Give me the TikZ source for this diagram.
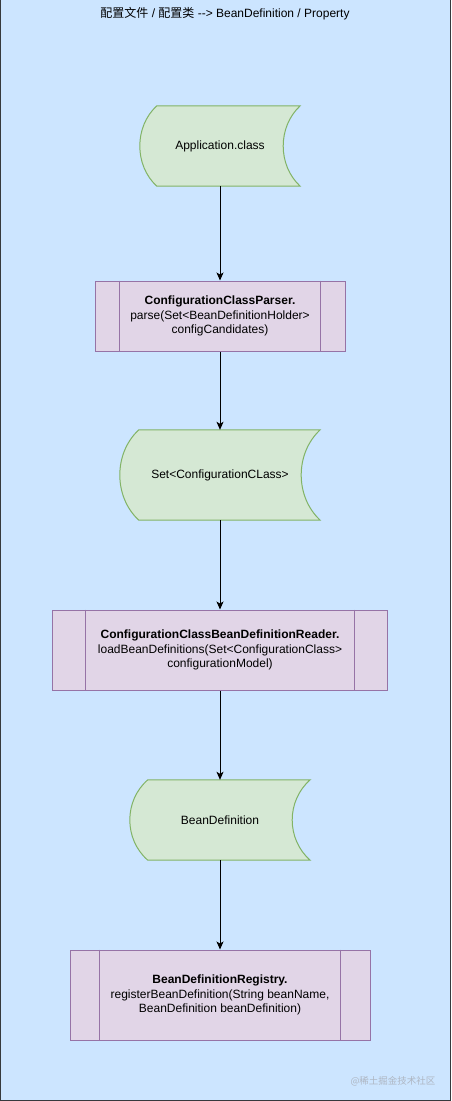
\documentclass[tikz,border=0pt]{standalone}
\usepackage{fontspec}
\setmainfont{Liberation Sans}
\newfontfamily\cjk{Noto Sans CJK SC}
\usetikzlibrary{arrows.meta,backgrounds,calc}
\definecolor{canvasblue}{HTML}{CCE5FF}
\definecolor{canvasedge}{HTML}{36393D}
\definecolor{datafill}{HTML}{D5E8D4}
\definecolor{dataline}{HTML}{82B366}
\definecolor{procfill}{HTML}{E1D5E7}
\definecolor{procline}{HTML}{9673A6}
\definecolor{markgray}{HTML}{AEB6C2}

\begin{document}
\begin{tikzpicture}[x=1pt,y=-1pt,
    flowtext/.style={font=\fontsize{12}{14.5}\selectfont,align=center,inner sep=0pt},
    datanode/.style={flowtext,minimum height=80},
    procnode/.style={flowtext,draw=procline,fill=procfill,line width=1pt},
    flowarrow/.style={-{Stealth[length=8pt,width=7pt,inset=2pt]},line width=1pt}]
    \useasboundingbox (0,0) rectangle (451,1101);
    \node[flowtext] (title) at (225,14)
      {{\cjk 配置文件} / {\cjk 配置类} -{}-> BeanDefinition / Property};
    % flow, top to bottom
    \node[datanode,minimum width=160] (appclass) at (220,146) {Application.class};
    \node[procnode,minimum width=250,minimum height=70] (parser) at (220,316)
      {\textbf{ConfigurationClassParser.}\\parse(Set<BeanDefinitionHolder>\\configCandidates)};
    \node[datanode,minimum width=200,minimum height=90] (cfgset) at (220,475)
      {Set<ConfigurationCLass>};
    \node[procnode,minimum width=335,minimum height=80] (reader) at (220,650)
      {\textbf{ConfigurationClassBeanDefinitionReader.}\\loadBeanDefinitions(Set<ConfigurationClass>\\configurationModel)};
    \node[datanode,minimum width=180] (beandef) at (220,820) {BeanDefinition};
    \node[procnode,minimum width=300,minimum height=90] (registry) at (220,995)
      {\textbf{BeanDefinitionRegistry.}\\registerBeanDefinition(String beanName,\\BeanDefinition beanDefinition)};
    \node[font=\cjk\fontsize{9.5}{10}\selectfont,text=markgray] (watermark) at (393,1081)
      {@稀土掘金技术社区};
    \foreach \n/\s in {parser/25,reader/33.5,registry/30}
      \draw[procline,line width=1pt]
        ([xshift=\s]\n.north west) -- ([xshift=\s]\n.south west)
        ([xshift=-\s]\n.north east) -- ([xshift=-\s]\n.south east);
    \begin{scope}[on background layer]
      \fill[canvasblue] (0,0) rectangle (451,1101);
      \draw[canvasedge,line width=1pt] (0.5,0) -- (0.5,1100.5) -- (450.5,1100.5) -- (450.5,0);
      % stored data outlines, rounded sides
      \foreach \n/\s in {appclass/17,cfgset/19,beandef/18}
        \draw[dataline,fill=datafill,line width=1pt]
          ([xshift=\s]\n.north west) -- (\n.north east)
          .. controls ($(\n.north east)!.26!(\n.south east)+(-4*\s/3,0)$)
                  and ($(\n.north east)!.74!(\n.south east)+(-4*\s/3,0)$) .. (\n.south east)
          -- ([xshift=\s]\n.south west)
          .. controls ($(\n.north west)!.74!(\n.south west)+(-\s/3,0)$)
                  and ($(\n.north west)!.26!(\n.south west)+(-\s/3,0)$) .. cycle;
    \end{scope}
    \draw[flowarrow] (appclass) -- (parser);
    \draw[flowarrow] (parser) -- (cfgset);
    \draw[flowarrow] (cfgset) -- (reader);
    \draw[flowarrow] (reader) -- (beandef);
    \draw[flowarrow] (beandef) -- (registry);
  \end{tikzpicture}
\end{document}
